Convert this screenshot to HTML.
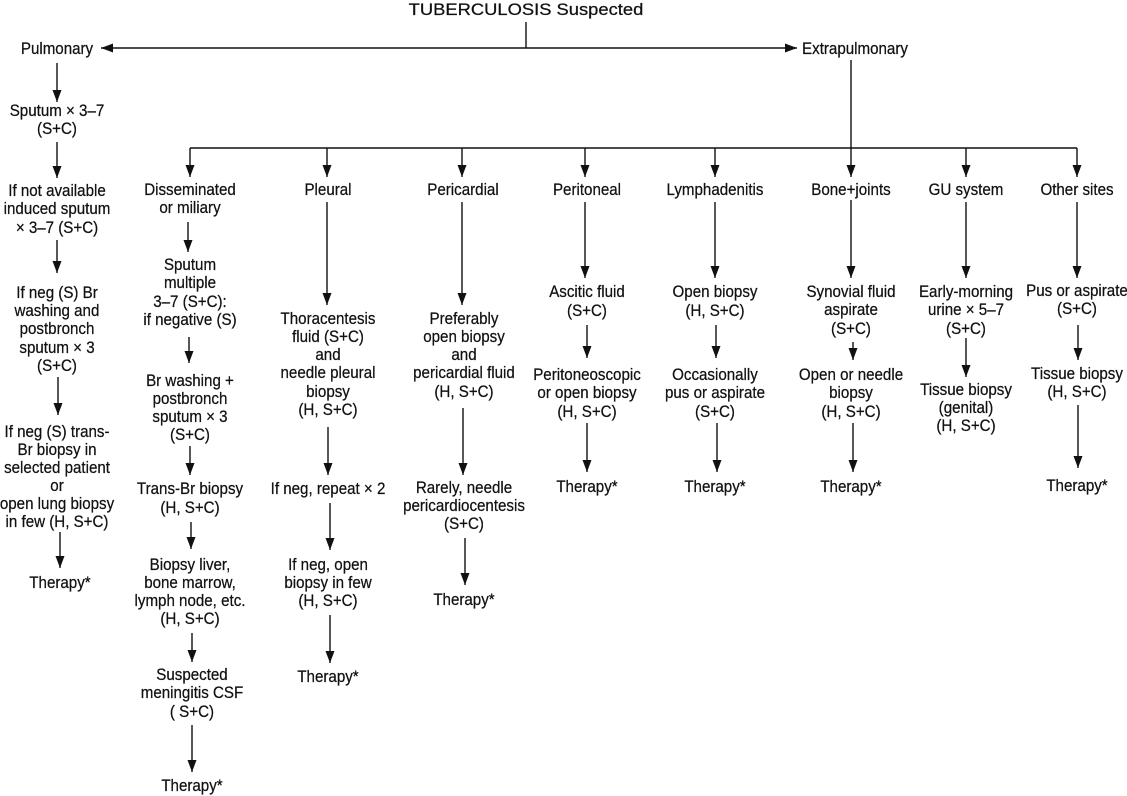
<!DOCTYPE html>
<html><head><meta charset="utf-8"><style>
html,body{margin:0;padding:0;background:#fff;}
svg{display:block;}
text{font-family:"Liberation Sans Narrow","Liberation Sans",sans-serif;font-size:17px;fill:#111;stroke:#111;stroke-width:0.25;text-anchor:middle;transform-box:fill-box;transform-origin:center;transform:scaleX(0.89);}
text.t{transform:scaleX(1.08);}
line{stroke:#111;stroke-width:1.4;}
</style></head><body>
<svg width="1127" height="796" viewBox="0 0 1127 796" xmlns="http://www.w3.org/2000/svg">
<defs>
<marker id="a" viewBox="0 0 10 14" refX="10" refY="7" markerWidth="12" markerHeight="9" markerUnits="userSpaceOnUse" orient="auto" preserveAspectRatio="none">
<path d="M0,0 L10,7 L0,14 z" fill="#111"/></marker>
</defs>

<text class="t" x="526" y="15">TUBERCULOSIS Suspected</text>
<line x1="526" y1="22" x2="526" y2="48"/>
<line x1="526" y1="48" x2="101" y2="48" marker-end="url(#a)"/>
<line x1="526" y1="48" x2="797" y2="48" marker-end="url(#a)"/>
<text x="57" y="54">Pulmonary</text>
<text x="855" y="54">Extrapulmonary</text>
<line x1="851" y1="60" x2="851" y2="148"/>
<line x1="190" y1="148" x2="1077" y2="148"/>

<!-- Pulmonary -->
<line x1="57" y1="63" x2="57" y2="102" marker-end="url(#a)"/>
<text x="57" y="116">Sputum × 3–7</text><text x="57" y="134">(S+C)</text>
<line x1="57" y1="142" x2="57" y2="178" marker-end="url(#a)"/>
<text x="57" y="196">If not available</text><text x="57" y="214">induced sputum</text><text x="57" y="233">× 3–7 (S+C)</text>
<line x1="57" y1="240" x2="57" y2="273" marker-end="url(#a)"/>
<text x="57" y="298">If neg (S) Br</text><text x="57" y="316">washing and</text><text x="57" y="334">postbronch</text><text x="57" y="353">sputum × 3</text><text x="57" y="371">(S+C)</text>
<line x1="58" y1="377" x2="58" y2="415" marker-end="url(#a)"/>
<text x="57" y="437">If neg (S) trans-</text><text x="57" y="455">Br biopsy in</text><text x="57" y="473">selected patient</text><text x="57" y="491">or</text><text x="57" y="509">open lung biopsy</text><text x="57" y="527">in few (H, S+C)</text>
<line x1="60" y1="532" x2="60" y2="568" marker-end="url(#a)"/>
<text x="60" y="588">Therapy*</text>

<!-- Disseminated -->
<line x1="190" y1="148" x2="190" y2="177" marker-end="url(#a)"/>
<text x="190" y="195">Disseminated</text><text x="190" y="213">or miliary</text>
<line x1="188" y1="222" x2="188" y2="252" marker-end="url(#a)"/>
<text x="190" y="270">Sputum</text><text x="190" y="288">multiple</text><text x="190" y="307">3–7 (S+C):</text><text x="190" y="325">if negative (S)</text>
<line x1="189" y1="337" x2="189" y2="363" marker-end="url(#a)"/>
<text x="190" y="386">Br washing +</text><text x="190" y="404">postbronch</text><text x="190" y="422">sputum × 3</text><text x="190" y="440">(S+C)</text>
<line x1="190" y1="446" x2="190" y2="475" marker-end="url(#a)"/>
<text x="190" y="494">Trans-Br biopsy</text><text x="190" y="513">(H, S+C)</text>
<line x1="191" y1="522" x2="191" y2="549" marker-end="url(#a)"/>
<text x="190" y="570">Biopsy liver,</text><text x="190" y="588">bone marrow,</text><text x="190" y="606">lymph node, etc.</text><text x="190" y="624">(H, S+C)</text>
<line x1="192" y1="633" x2="192" y2="662" marker-end="url(#a)"/>
<text x="192" y="680">Suspected</text><text x="192" y="698">meningitis CSF</text><text x="192" y="717">( S+C)</text>
<line x1="192" y1="725" x2="192" y2="772" marker-end="url(#a)"/>
<text x="192" y="791">Therapy*</text>

<!-- Pleural -->
<line x1="327" y1="148" x2="327" y2="177" marker-end="url(#a)"/>
<text x="328" y="195">Pleural</text>
<line x1="327" y1="202" x2="327" y2="305" marker-end="url(#a)"/>
<text x="328" y="324">Thoracentesis</text><text x="328" y="342">fluid (S+C)</text><text x="328" y="360">and</text><text x="328" y="378">needle pleural</text><text x="328" y="397">biopsy</text><text x="328" y="415">(H, S+C)</text>
<line x1="328" y1="427" x2="328" y2="475" marker-end="url(#a)"/>
<text x="328" y="494">If neg, repeat × 2</text>
<line x1="330" y1="503" x2="330" y2="550" marker-end="url(#a)"/>
<text x="328" y="570">If neg, open</text><text x="328" y="588">biopsy in few</text><text x="328" y="606">(H, S+C)</text>
<line x1="330" y1="615" x2="330" y2="663" marker-end="url(#a)"/>
<text x="328" y="682">Therapy*</text>

<!-- Pericardial -->
<line x1="462" y1="148" x2="462" y2="177" marker-end="url(#a)"/>
<text x="463" y="195">Pericardial</text>
<line x1="462" y1="202" x2="462" y2="305" marker-end="url(#a)"/>
<text x="464" y="324">Preferably</text><text x="464" y="342">open biopsy</text><text x="464" y="360">and</text><text x="464" y="378">pericardial fluid</text><text x="464" y="397">(H, S+C)</text>
<line x1="463" y1="408" x2="463" y2="475" marker-end="url(#a)"/>
<text x="464" y="493">Rarely, needle</text><text x="464" y="511">pericardiocentesis</text><text x="464" y="529">(S+C)</text>
<line x1="465" y1="538" x2="465" y2="585" marker-end="url(#a)"/>
<text x="464" y="605">Therapy*</text>

<!-- Peritoneal -->
<line x1="585" y1="148" x2="585" y2="177" marker-end="url(#a)"/>
<text x="587" y="195">Peritoneal</text>
<line x1="585" y1="202" x2="585" y2="278" marker-end="url(#a)"/>
<text x="587" y="297">Ascitic fluid</text><text x="587" y="316">(S+C)</text>
<line x1="587" y1="325" x2="587" y2="358" marker-end="url(#a)"/>
<text x="587" y="380">Peritoneoscopic</text><text x="587" y="398">or open biopsy</text><text x="587" y="417">(H, S+C)</text>
<line x1="587" y1="423" x2="587" y2="472" marker-end="url(#a)"/>
<text x="587" y="492">Therapy*</text>

<!-- Lymphadenitis -->
<line x1="715" y1="148" x2="715" y2="177" marker-end="url(#a)"/>
<text x="715" y="195">Lymphadenitis</text>
<line x1="715" y1="202" x2="715" y2="278" marker-end="url(#a)"/>
<text x="715" y="297">Open biopsy</text><text x="715" y="316">(H, S+C)</text>
<line x1="716" y1="325" x2="716" y2="358" marker-end="url(#a)"/>
<text x="715" y="380">Occasionally</text><text x="715" y="398">pus or aspirate</text><text x="715" y="417">(S+C)</text>
<line x1="717" y1="423" x2="717" y2="472" marker-end="url(#a)"/>
<text x="715" y="492">Therapy*</text>

<!-- Bone+joints -->
<line x1="851" y1="148" x2="851" y2="177" marker-end="url(#a)"/>
<text x="851" y="195">Bone+joints</text>
<line x1="851" y1="200" x2="851" y2="278" marker-end="url(#a)"/>
<text x="851" y="297">Synovial fluid</text><text x="851" y="315">aspirate</text><text x="851" y="334">(S+C)</text>
<line x1="853" y1="342" x2="853" y2="360" marker-end="url(#a)"/>
<text x="851" y="380">Open or needle</text><text x="851" y="398">biopsy</text><text x="851" y="417">(H, S+C)</text>
<line x1="853" y1="423" x2="853" y2="472" marker-end="url(#a)"/>
<text x="851" y="492">Therapy*</text>

<!-- GU -->
<line x1="966" y1="148" x2="966" y2="177" marker-end="url(#a)"/>
<text x="966" y="195">GU system</text>
<line x1="966" y1="202" x2="966" y2="278" marker-end="url(#a)"/>
<text x="966" y="297">Early-morning</text><text x="966" y="315">urine × 5–7</text><text x="966" y="334">(S+C)</text>
<line x1="966" y1="338" x2="966" y2="377" marker-end="url(#a)"/>
<text x="966" y="395">Tissue biopsy</text><text x="966" y="413">(genital)</text><text x="966" y="431">(H, S+C)</text>

<!-- Other -->
<line x1="1077" y1="148" x2="1077" y2="177" marker-end="url(#a)"/>
<text x="1077" y="195">Other sites</text>
<line x1="1077" y1="202" x2="1077" y2="278" marker-end="url(#a)"/>
<text x="1077" y="296">Pus or aspirate</text><text x="1077" y="314">(S+C)</text>
<line x1="1078" y1="325" x2="1078" y2="360" marker-end="url(#a)"/>
<text x="1077" y="379">Tissue biopsy</text><text x="1077" y="397">(H, S+C)</text>
<line x1="1078" y1="405" x2="1078" y2="468" marker-end="url(#a)"/>
<text x="1077" y="491">Therapy*</text>
</svg>
</body></html>
